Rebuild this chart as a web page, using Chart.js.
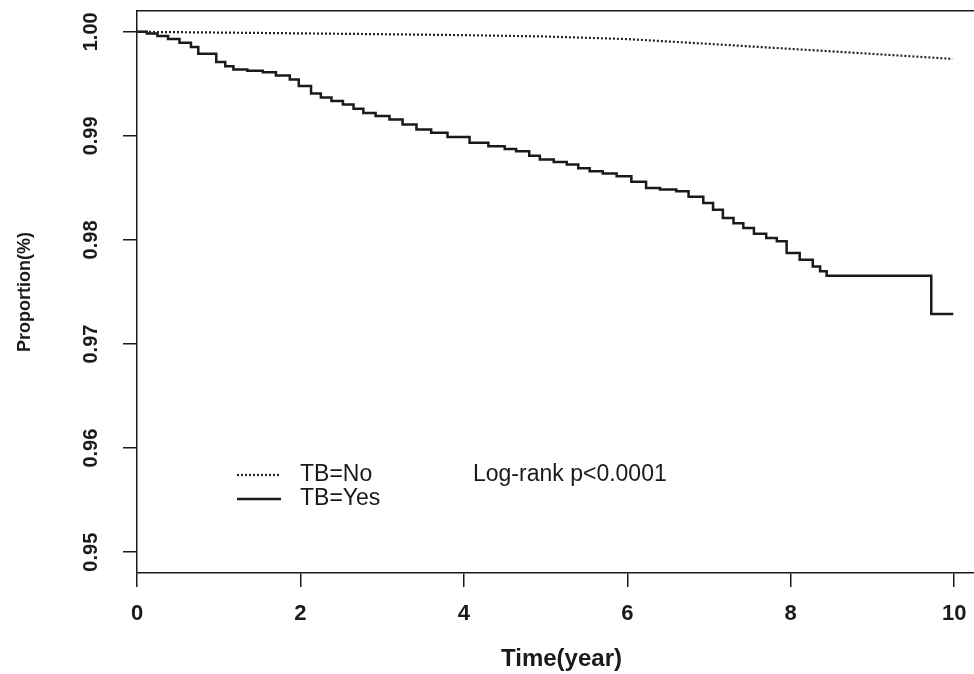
<!DOCTYPE html>
<html>
<head>
<meta charset="utf-8">
<title>TB survival</title>
<script src="https://cdn.jsdelivr.net/npm/chart.js@4.4.1/dist/chart.umd.min.js"></script>
<style>
  html, body { margin: 0; padding: 0; background: #fff; overflow: hidden; }
  canvas { display: block; }
</style>
</head>
<body>
<canvas id="kmChart" width="986" height="674"></canvas>
<script>
// axis ticks
const xTicks = [0, 2, 4, 6, 8, 10];
const yTicks = [0.95, 0.96, 0.97, 0.98, 0.99, 1.00];

// TB=No curve (dotted)
const noTime = [0, 1, 2, 3, 4, 5, 6, 7, 8, 9, 9.98];
const noSurv = [1.0000, 0.99993, 0.99985, 0.99977, 0.99968, 0.99955, 0.99930, 0.99884, 0.99836, 0.99788, 0.99740];

// TB=Yes curve (solid, steps)
const yesTime = [0, 0.12, 0.25, 0.38, 0.52, 0.66, 0.75, 0.97, 1.08, 1.18, 1.35, 1.54, 1.70, 1.87, 1.98,
  2.13, 2.25, 2.38, 2.52, 2.65, 2.77, 2.92, 3.09, 3.25, 3.42, 3.60, 3.80, 4.07, 4.30, 4.50,
  4.64, 4.80, 4.93, 5.10, 5.26, 5.40, 5.54, 5.70, 5.87, 6.05, 6.23, 6.40, 6.60, 6.75, 6.93,
  7.05, 7.17, 7.30, 7.42, 7.55, 7.70, 7.83, 7.95, 8.11, 8.27, 8.36, 8.44, 9.72, 9.99];
const yesSurv = [1.0000, 0.99985, 0.99960, 0.99930, 0.99895, 0.99855, 0.99790, 0.99710, 0.99670, 0.99637, 0.99625, 0.99612, 0.99580, 0.99541, 0.99480,
  0.99407, 0.99370, 0.99335, 0.99301, 0.99260, 0.99221, 0.99190, 0.99157, 0.99110, 0.99061, 0.99030, 0.98990, 0.98933, 0.98900, 0.98875,
  0.98852, 0.98810, 0.98772, 0.98750, 0.98724, 0.98690, 0.98660, 0.98638, 0.98612, 0.98560, 0.98500, 0.98485, 0.98467, 0.98415, 0.98356,
  0.98290, 0.98210, 0.98160, 0.98115, 0.98060, 0.98020, 0.97987, 0.97875, 0.97810, 0.97746, 0.97700, 0.97657, 0.97288, 0.97288];

const seriesLabels = ['TB=No', 'TB=Yes'];
const pValueText = 'Log-rank p<0.0001';

const ink = '#1a1a1a';

function toPoints(xs, ys) {
    return xs.map((x, i) => ({ x: x, y: ys[i] }));
}

// legend drawn inside the plot, like the R figure
const legendPlugin = {
    id: 'kmLegend',
    afterDatasetsDraw(chart) {
        const ctx = chart.ctx;
        const rows = [475, 499];
        ctx.save();
        chart.data.datasets.forEach((ds, i) => {
            ctx.beginPath();
            ctx.strokeStyle = ds.borderColor;
            ctx.lineWidth = ds.borderWidth;
            ctx.setLineDash(ds.borderDash || []);
            ctx.moveTo(237, rows[i]);
            ctx.lineTo(281, rows[i]);
            ctx.stroke();
        });
        ctx.setLineDash([]);
        ctx.fillStyle = ink;
        ctx.font = '23px "Liberation Sans", Arial, sans-serif';
        ctx.textBaseline = 'middle';
        ctx.textAlign = 'left';
        ctx.fillText(seriesLabels[0], 300, rows[0]);
        ctx.fillText(seriesLabels[1], 300, rows[1]);
        ctx.fillText(pValueText, 473, rows[0]);
        ctx.restore();
    }
};

const tickFont = { family: '"Liberation Sans", Arial, sans-serif', weight: 'bold' };

new Chart(document.getElementById('kmChart'), {
    type: 'line',
    data: {
        datasets: [{
            label: seriesLabels[0],
            data: toPoints(noTime, noSurv),
            borderColor: '#222',
            borderWidth: 2.2,
            borderDash: [2, 2],
            pointRadius: 0,
            tension: 0
        }, {
            label: seriesLabels[1],
            data: toPoints(yesTime, yesSurv),
            borderColor: ink,
            borderWidth: 2.5,
            stepped: 'before',
            pointRadius: 0
        }]
    },
    options: {
        responsive: false,
        animation: false,
        devicePixelRatio: 1,
        layout: { padding: { top: 11, left: 0, right: 0, bottom: 0 } },
        plugins: {
            legend: { display: false },
            tooltip: { enabled: false }
        },
        scales: {
            x: {
                type: 'linear',
                min: 0,
                max: 10.39,
                afterBuildTicks: scale => { scale.ticks = xTicks.map(v => ({ value: v })); },
                afterFit: scale => {
                    scale.height = 101;
                    scale.paddingLeft = 0;
                    scale.paddingRight = 0;
                },
                ticks: {
                    color: ink,
                    padding: 14,
                    font: Object.assign({ size: 22 }, tickFont),
                    callback: v => String(v)
                },
                grid: { drawOnChartArea: false, drawTicks: true, tickLength: 14, color: ink, lineWidth: 1.5 },
                border: { display: true, color: ink, width: 1.5 },
                title: {
                    display: true,
                    text: 'Time(year)',
                    color: ink,
                    padding: { top: 0, bottom: 0 },
                    font: Object.assign({ size: 24 }, tickFont)
                }
            },
            x2: {
                type: 'linear',
                position: 'top',
                min: 0,
                max: 10.39,
                afterFit: scale => {
                    scale.height = 0;
                    scale.paddingLeft = 0;
                    scale.paddingRight = 0;
                },
                ticks: { display: false },
                grid: { display: false, drawTicks: false },
                border: { display: true, color: ink, width: 1.5 }
            },
            y: {
                min: 0.948,
                max: 1.002,
                afterBuildTicks: scale => { scale.ticks = yTicks.map(v => ({ value: v })); },
                afterFit: scale => {
                    scale.width = 137;
                    scale.paddingTop = 0;
                    scale.paddingBottom = 0;
                },
                ticks: {
                    color: ink,
                    minRotation: 90,
                    maxRotation: 90,
                    crossAlign: 'center',
                    padding: 12,
                    font: Object.assign({ size: 20 }, tickFont),
                    callback: v => v.toFixed(2)
                },
                grid: { drawOnChartArea: false, drawTicks: true, tickLength: 14, color: ink, lineWidth: 1.5 },
                border: { display: true, color: ink, width: 1.5 },
                title: {
                    display: true,
                    text: 'Proportion(%)',
                    color: ink,
                    padding: { top: 14, bottom: 0 },
                    font: Object.assign({ size: 18 }, tickFont)
                }
            }
        }
    },
    plugins: [legendPlugin]
});
</script>
</body>
</html>
